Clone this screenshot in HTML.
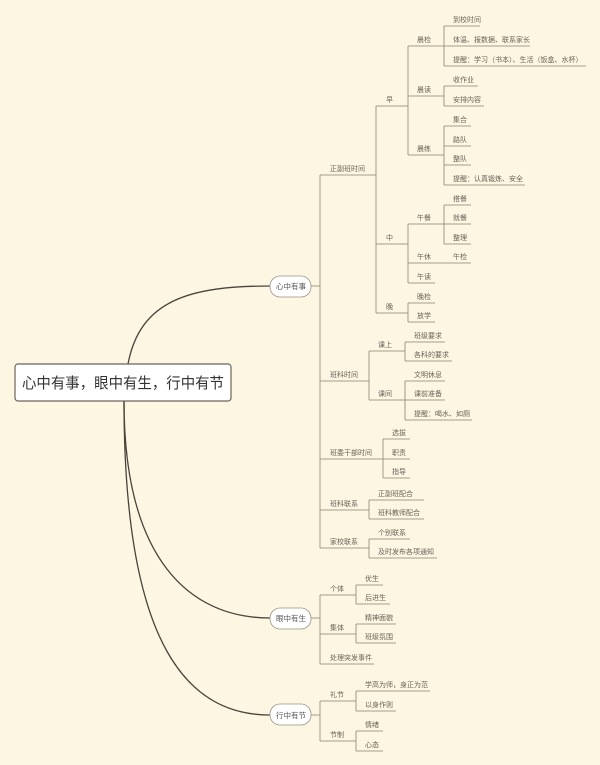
<!DOCTYPE html>
<html><head><meta charset="utf-8"><style>
html,body{margin:0;padding:0;background:#fcf6e2;}
svg{display:block;}
text{font-family:"Liberation Sans","Noto Sans CJK SC",sans-serif;font-size:7px;fill:#6a6258;}
</style></head><body>
<svg width="600" height="765" viewBox="0 0 600 765" xmlns="http://www.w3.org/2000/svg">
<rect width="600" height="765" fill="#fcf6e2"/>
<g stroke="#4a443c" stroke-width="1.3" fill="none">
<path d="M128,364 C140,300 190,286 270,286"/>
<path d="M124,401 C124,560 190,618 270,618"/>
<path d="M124,401 C124,650 190,715 270,715"/>
</g>
<rect x="15" y="364" width="216" height="37" rx="3" fill="#fff" stroke="#6a645a" stroke-width="1.2"/>
<text x="22" y="388" textLength="202" lengthAdjust="spacingAndGlyphs" style="font-size:15px;fill:#333">心中有事，眼中有生，行中有节</text>
<g fill="#fff" stroke="#9a9488" stroke-width="0.8">
<rect x="270" y="276" width="41" height="21" rx="10"/>
<rect x="270" y="608" width="41" height="21" rx="10"/>
<rect x="270" y="704" width="41" height="21" rx="10"/>
</g>
<text x="276" y="289" style="font-size:7.5px;fill:#555">心中有事</text>
<text x="276" y="621" style="font-size:7.5px;fill:#555">眼中有生</text>
<text x="276" y="718" style="font-size:7.5px;fill:#555">行中有节</text>
<g stroke="#8c8270" stroke-width="0.8" fill="none">
<path d="M311,286H320 M311,618H320 M311,715H320"/>
<path d="M320,175V548 M320,595V664 M320,701V741"/>
<path d="M376,106V313"/>
<path d="M408,46V155 M408,224V283 M408,303V322"/>
<path d="M444,26V66 M444,86V106 M444,126V185 M444,205V244"/>
<path d="M369,351V400 M369,500V519 M369,539V558"/>
<path d="M405,342V361 M405,381V420"/>
<path d="M383,439V478"/>
<path d="M356,585V604 M356,624V643 M356,691V711 M356,731V751"/>
<path d="M320,175H376 M320,381H369 M320,459H383 M320,510H369 M320,548H369"/>
<path d="M376,106H408 M376,244H408 M376,313H408"/>
<path d="M408,46H444 M408,96H444 M408,155H444"/>
<path d="M444,26H480 M444,46H530 M444,66H586"/>
<path d="M444,86H478 M444,106H484"/>
<path d="M444,126H471 M444,146H471 M444,165H471 M444,185H525"/>
<path d="M408,224H444 M408,263H471 M408,283H435"/>
<path d="M444,205H471 M444,224H471 M444,244H471"/>
<path d="M408,303H435 M408,322H435"/>
<path d="M369,351H405 M369,400H405"/>
<path d="M405,342H445 M405,361H452"/>
<path d="M405,381H445 M405,400H445 M405,420H472"/>
<path d="M383,439H410 M383,459H410 M383,478H410"/>
<path d="M369,500H424 M369,519H424"/>
<path d="M369,539H410 M369,558H437"/>
<path d="M320,595H356 M320,634H356 M320,664H374"/>
<path d="M356,585H383 M356,604H390 M356,624H396 M356,643H396"/>
<path d="M320,701H356 M320,741H356"/>
<path d="M356,691H430 M356,711H396 M356,731H383 M356,751H383"/>
</g>
<g>
<text x="330" y="171">正副班时间</text>
<text x="330" y="377">班科时间</text>
<text x="330" y="455">班委干部时间</text>
<text x="330" y="506">班科联系</text>
<text x="330" y="544">家校联系</text>
<text x="386" y="102">早</text>
<text x="386" y="240">中</text>
<text x="386" y="309">晚</text>
<text x="417" y="42">晨检</text>
<text x="417" y="92">晨读</text>
<text x="417" y="151">晨练</text>
<text x="453" y="22">到校时间</text>
<text x="453" y="42">体温、报数据、联系家长</text>
<text x="453" y="62">提醒：学习（书本）、生活（饭盒、水杯）</text>
<text x="453" y="82">收作业</text>
<text x="453" y="102">安排内容</text>
<text x="453" y="122">集合</text>
<text x="453" y="142">路队</text>
<text x="453" y="161">整队</text>
<text x="453" y="181">提醒：认真锻炼、安全</text>
<text x="417" y="220">午餐</text>
<text x="417" y="259">午休</text>
<text x="417" y="279">午读</text>
<text x="453" y="201">搭餐</text>
<text x="453" y="220">就餐</text>
<text x="453" y="240">整理</text>
<text x="453" y="259">午检</text>
<text x="417" y="299">晚检</text>
<text x="417" y="318">放学</text>
<text x="378" y="347">课上</text>
<text x="378" y="396">课间</text>
<text x="414" y="338">班级要求</text>
<text x="414" y="357">各科的要求</text>
<text x="414" y="377">文明休息</text>
<text x="414" y="396">课前准备</text>
<text x="414" y="416">提醒：喝水、如厕</text>
<text x="392" y="435">选拔</text>
<text x="392" y="455">职责</text>
<text x="392" y="474">指导</text>
<text x="378" y="496">正副班配合</text>
<text x="378" y="515">班科教师配合</text>
<text x="378" y="535">个别联系</text>
<text x="378" y="554">及时发布各项通知</text>
<text x="330" y="591">个体</text>
<text x="330" y="630">集体</text>
<text x="330" y="660">处理突发事件</text>
<text x="365" y="581">优生</text>
<text x="365" y="600">后进生</text>
<text x="365" y="620">精神面貌</text>
<text x="365" y="639">班级氛围</text>
<text x="330" y="697">礼节</text>
<text x="330" y="737">节制</text>
<text x="365" y="687">学高为师，身正为范</text>
<text x="365" y="707">以身作则</text>
<text x="365" y="727">情绪</text>
<text x="365" y="747">心态</text>
</g>
</svg>
</body></html>
